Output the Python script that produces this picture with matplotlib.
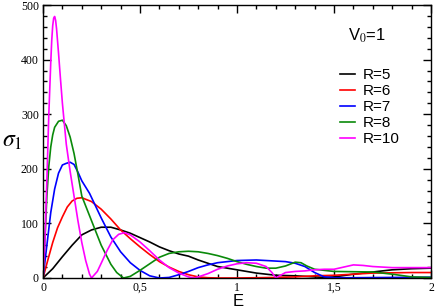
import matplotlib
matplotlib.use("Agg")
import matplotlib.pyplot as plt
from matplotlib.ticker import MultipleLocator, FuncFormatter

plt.rcParams['mathtext.fontset'] = 'stix'

# values
e5 = [0, 0.05, 0.1, 0.15, 0.2, 0.25, 0.3, 0.35, 0.4, 0.45, 0.5, 0.55, 0.6, 0.65, 0.7,
      0.75, 0.8, 0.85, 0.9, 1.0, 1.1, 1.2, 1.3, 1.4, 1.45, 1.5, 1.6, 1.7, 1.8, 1.9, 2.0]
s5 = [0, 17, 39, 60, 79, 88, 93, 93, 88, 82, 74, 66, 57, 50, 44,
      40, 33, 27, 21, 15, 9, 5, 4, 2, 1, 2, 7, 11, 15, 17, 18]

e6 = [0, 0.025, 0.05, 0.075, 0.1, 0.125, 0.15, 0.175, 0.2, 0.25, 0.3, 0.35, 0.4, 0.45,
      0.5, 0.55, 0.6, 0.65, 0.7, 0.75, 0.8, 0.85, 0.9, 1.0, 1.1, 1.2, 1.3, 1.4, 1.5,
      1.6, 1.7, 1.8, 1.9, 2.0]
s6 = [0, 33, 65, 92, 112, 130, 141, 146, 147, 140, 126, 108, 88, 72,
      57, 43, 30, 20, 12, 6, 2, 0.5, 0, 0, 0.5, 1, 2, 4, 5,
      7, 9, 9.5, 10, 10]

e7 = [0, 0.02, 0.04, 0.06, 0.08, 0.1, 0.12, 0.14, 0.16, 0.18, 0.2, 0.24, 0.3, 0.35,
      0.4, 0.45, 0.5, 0.55, 0.6, 0.65, 0.7, 0.75, 0.8, 0.85, 0.9, 1.0, 1.1, 1.2, 1.25,
      1.3, 1.35, 1.4, 1.45, 1.5, 1.6, 1.8, 2.0]
s7 = [0, 60, 120, 163, 192, 207, 210, 212, 208, 194, 178, 155, 110, 75,
      48, 28, 14, 4, 0, 1, 6, 12, 19, 24, 28, 32, 33, 31, 30,
      27, 21, 10, 2, 0.5, 0.5, 1, 1.5]

e8 = [0, 0.01, 0.02, 0.03, 0.04, 0.05, 0.06, 0.08, 0.1, 0.12, 0.14, 0.16, 0.18, 0.2,
      0.25, 0.3, 0.35, 0.38, 0.415, 0.45, 0.5, 0.55, 0.6, 0.65, 0.7, 0.75, 0.8, 0.85,
      0.9, 0.95, 1.0, 1.05, 1.1, 1.15, 1.2, 1.25, 1.3, 1.33, 1.36, 1.4, 1.45, 1.5,
      1.6, 1.7, 1.8, 1.9, 2.0]
s8 = [0, 70, 150, 205, 240, 262, 276, 287, 289, 279, 258, 228, 190, 150,
      105, 60, 25, 10, 0, 3, 14, 26, 38, 45, 48, 49, 48, 45,
      41, 36, 30, 25, 21, 18, 18, 22, 29, 28, 22, 16, 14, 12,
      11.5, 11, 7, 2, 1]

e10 = [0, 0.01, 0.02, 0.03, 0.04, 0.045, 0.05, 0.055, 0.06, 0.065, 0.07, 0.08, 0.09,
       0.1, 0.12, 0.14, 0.16, 0.18, 0.2, 0.22, 0.24, 0.25, 0.28, 0.3, 0.33, 0.36, 0.39,
       0.42, 0.45, 0.5, 0.55, 0.6, 0.65, 0.7, 0.75, 0.78, 0.8, 0.85, 0.9, 0.95, 1.0,
       1.05, 1.1, 1.15, 1.18, 1.2, 1.22, 1.25, 1.3, 1.35, 1.4, 1.45, 1.5, 1.55, 1.6,
       1.65, 1.7, 1.8, 1.9, 2.0]
s10 = [0, 70, 180, 300, 395, 435, 462, 476, 479, 472, 456, 412, 365,
       320, 245, 195, 150, 105, 65, 32, 7, 0, 12, 27, 50, 70, 80,
       83, 79, 66, 50, 33, 19, 9, 2, 0, 2, 8, 16, 22, 26,
       28, 27, 21, 10, 0, 4, 10, 12, 13, 15, 16, 16, 20, 24,
       23, 21, 19, 19, 19]

series = [(e5, s5, 'black', 'R=5'), (e6, s6, '#ff0000', 'R=6'),
          (e7, s7, '#0000ff', 'R=7'), (e8, s8, '#0a8a0a', 'R=8'),
          (e10, s10, '#ff00ff', 'R=10')]

fig = plt.figure(figsize=(4.36, 3.08), dpi=100)
ax = fig.add_axes([43/436, 1 - 278/308, 388/436, 273/308])

for e, s, c, lab in series:
    ax.plot(e, s, color=c, lw=1.2, label=lab)

ax.set_xlim(0, 2)
ax.set_ylim(0, 500)
ax.xaxis.set_major_locator(MultipleLocator(0.5))
ax.xaxis.set_minor_locator(MultipleLocator(0.1))
ax.yaxis.set_major_locator(MultipleLocator(100))
ax.yaxis.set_minor_locator(MultipleLocator(20))

def fmt(v, pos):
    if abs(v - round(v)) < 1e-9:
        return '%d' % round(v)
    return ('%g' % v).replace('.', ',')

ax.xaxis.set_major_formatter(FuncFormatter(fmt))
ax.tick_params(which='both', direction='in', top=True, right=True, width=1,
               labelsize=8.5, pad=3)
ax.tick_params(which='major', length=6)
ax.tick_params(which='minor', length=3)
for lbl in ax.get_xticklabels() + ax.get_yticklabels():
    lbl.set_family('Liberation Serif')
for sp in ax.spines.values():
    sp.set_linewidth(1)

# axis titles sit by hand, the E is right at the bottom edge
fig.text(238/436, 1 - 306/308, 'E', family='Liberation Sans', fontsize=12,
         ha='center', va='baseline')
fig.text(0.005, 1 - 140/308, r'$\sigma_1$', fontsize=17, va='center', ha='left')

ax.text(0.835, 0.886, r'V$_0$=1', transform=ax.transAxes, family='Liberation Sans',
        fontsize=12, ha='center', va='center')
ax.legend(loc='upper left', bbox_to_anchor=(0.765, 0.768), frameon=False,
          prop={'family': 'Liberation Sans', 'size': 11}, handlelength=1.0,
          handletextpad=0.5, labelspacing=0.13, borderpad=0, borderaxespad=0)

fig.savefig('out.png', dpi=100)
